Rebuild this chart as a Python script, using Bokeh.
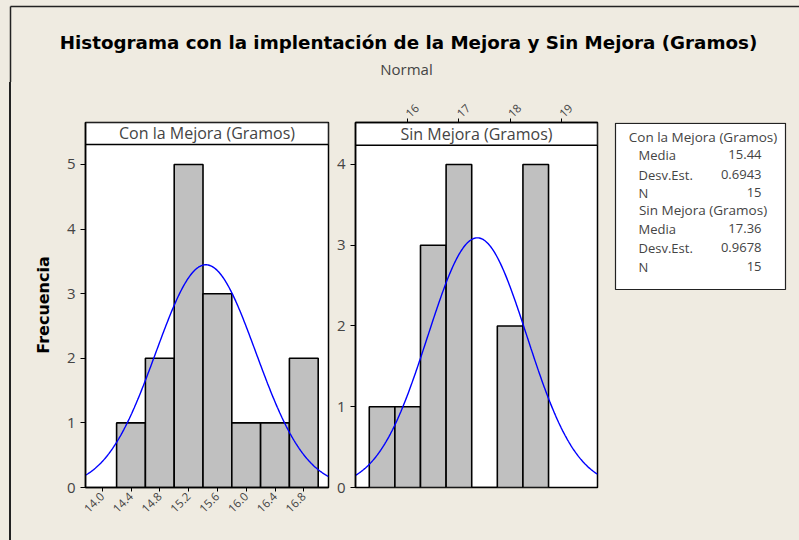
import math
import numpy as np
from bokeh.plotting import figure
from bokeh.layouts import column, row
from bokeh.models import Range1d, FixedTicker, NumeralTickFormatter, Spacer
from bokeh.core.properties import value
from bokeh.embed import file_html
from bokeh.resources import INLINE

# ---------------- data ----------------
title_text = "Histograma con la implentación de la Mejora y Sin Mejora (Gramos)"
subtitle_text = "Normal"
y_label = "Frecuencia"

con_name = "Con la Mejora (Gramos)"
con_bin_centers = [14.4, 14.8, 15.2, 15.6, 16.0, 16.4, 16.8]
con_counts = [1, 2, 5, 3, 1, 1, 2]
con_bin_width = 0.4
con_mean = 15.44
con_std = 0.6943
con_n = 15
con_x_ticks = [14.0, 14.4, 14.8, 15.2, 15.6, 16.0, 16.4, 16.8]
con_y_ticks = [0, 1, 2, 3, 4, 5]
con_x_range = (13.768, 17.143)

sin_name = "Sin Mejora (Gramos)"
sin_bin_centers = [15.5, 16.0, 16.5, 17.0, 17.5, 18.0, 18.5]
sin_counts = [1, 1, 3, 4, 0, 2, 4]
sin_bin_width = 0.5
sin_mean = 17.36
sin_std = 0.9678
sin_n = 15
sin_x_ticks = [16, 17, 18, 19]
sin_y_ticks = [0, 1, 2, 3, 4]
sin_x_range = (14.981, 19.706)

stat_labels = ["Media", "Desv.Est.", "N"]
con_stat_values = ["15.44", "0.6943", "15"]
sin_stat_values = ["17.36", "0.9678", "15"]

# ---------------- style ----------------
BG = "#EFEBE1"
FONT = "Open Sans"
BOLD_FONT = "DejaVu Sans"
TXT = "#444444"
ROW_H = 458
MB_TOP = 40
MB_BOTTOM = 53


def normal_curve(xr, mean, std, n, bw):
    xs = np.linspace(xr[0], xr[1], 300)
    ys = n * bw * np.exp(-0.5 * ((xs - mean) / std) ** 2) / (std * math.sqrt(2 * math.pi))
    return xs, ys


def panel(name, centers, counts, bw, mean, std, n, xr, y_top, header_bottom,
          xticks, yticks, x_loc, width, mb_left, mb_right, fmt, ylabel=None):
    p = figure(width=width, height=ROW_H, x_range=Range1d(*xr), y_range=Range1d(0, y_top),
               output_backend="svg", toolbar_location=None, x_axis_location=x_loc,
               min_border_left=mb_left, min_border_right=mb_right,
               min_border_top=MB_TOP, min_border_bottom=MB_BOTTOM,
               background_fill_color="white", border_fill_color=BG,
               outline_line_color="black", outline_line_width=1.5)
    p.grid.visible = False
    for ax in p.axis:
        ax.axis_line_color = "black"
        ax.axis_line_width = 1.5
        ax.major_tick_in = 0
        ax.major_tick_out = 5
        ax.major_tick_line_color = "black"
        ax.minor_tick_line_color = None
        ax.major_label_text_font = FONT
        ax.major_label_text_color = TXT
    p.xaxis.ticker = FixedTicker(ticks=xticks)
    p.xaxis.formatter = NumeralTickFormatter(format=fmt)
    p.xaxis.major_label_orientation = math.pi / 4
    p.xaxis.major_label_text_font_size = "11.5px"
    p.xaxis.major_label_standoff = 3
    p.xaxis.major_tick_out = 4
    p.yaxis.ticker = FixedTicker(ticks=yticks)
    p.yaxis.major_label_text_font_size = "15px"
    p.yaxis.major_label_standoff = 5
    if ylabel:
        p.yaxis.axis_label = ylabel
        p.yaxis.axis_label_text_font = BOLD_FONT
        p.yaxis.axis_label_text_font_style = "bold"
        p.yaxis.axis_label_text_font_size = "16px"
        p.yaxis.axis_label_text_color = "black"
        p.yaxis.axis_label_standoff = 11

    lefts = [c - bw / 2 for c in centers]
    rights = [c + bw / 2 for c in centers]
    p.quad(left=lefts, right=rights, bottom=0, top=counts,
           fill_color="#C0C0C0", line_color="black", line_width=1.6)
    xs, ys = normal_curve(xr, mean, std, n, bw)
    p.line(xs, ys, line_color="#0000FF", line_width=1.4)

    # header strip
    p.quad(left=[xr[0]], right=[xr[1]], bottom=[header_bottom], top=[y_top],
           fill_color="white", line_color="black", line_width=1.5)
    p.text(x=[(xr[0] + xr[1]) / 2], y=[(header_bottom + y_top) / 2], text=[name],
           text_align="center", text_baseline="middle", text_font=value(FONT),
           text_font_size="16px", text_color=TXT)
    return p


def canvas(width, height, mb_top=0, mb_bottom=0):
    fh = height - mb_top - mb_bottom
    p = figure(width=width, height=height, x_range=Range1d(0, width), y_range=Range1d(fh, 0),
               output_backend="svg", toolbar_location=None,
               x_axis_location=None, y_axis_location=None,
               min_border_left=0, min_border_right=0,
               min_border_top=mb_top, min_border_bottom=mb_bottom,
               background_fill_color=BG, border_fill_color=BG,
               outline_line_color=None)
    p.grid.visible = False
    return p


# title area
title_fig = canvas(799, 82)
title_fig.segment(x0=[10, 10], y0=[6, 6], x1=[799, 10], y1=[6, 82],
                  line_color="#222222", line_width=1.5)
title_fig.text(x=[408], y=[42], text=[title_text], text_align="center", text_baseline="middle",
               text_font=value(BOLD_FONT), text_font_style="bold", text_font_size="18.3px",
               text_color="black")
title_fig.text(x=[406], y=[68], text=[subtitle_text], text_align="center", text_baseline="middle",
               text_font=value(FONT), text_font_size="15px", text_color=TXT)

# outer frame line on the left
gap = Spacer(width=9, height=ROW_H, styles={"background-color": BG})
edge = Spacer(width=2, height=ROW_H, styles={"background-color": "#222222"})

left = panel(con_name, con_bin_centers, con_counts, con_bin_width, con_mean, con_std, con_n,
             con_x_range, 5.650, 5.310, con_x_ticks, con_y_ticks, "below",
             322, 74, 5, "0.0", ylabel=y_label)
right = panel(sin_name, sin_bin_centers, sin_counts, sin_bin_width, sin_mean, sin_std, sin_n,
              sin_x_range, 4.520, 4.239, sin_x_ticks, sin_y_ticks, "above",
              272, 21, 8, "0")

# statistics box (coordinates measured from the top of the panel frames)
leg = canvas(194, ROW_H, MB_TOP, MB_BOTTOM)
leg.quad(left=[10], right=[180], top=[0.8], bottom=[167], fill_color="white",
         line_color="#222222", line_width=1.2)
blocks = [(con_name, 14, [32, 52, 70], con_stat_values),
          (sin_name, 87, [106, 125, 144], sin_stat_values)]
for name, hy, ys, vals in blocks:
    leg.text(x=[97.5], y=[hy], text=[name], text_align="center", text_baseline="middle",
             text_font=value(FONT), text_font_size="13.5px", text_color=TXT)
    leg.text(x=[33] * 3, y=ys, text=stat_labels, text_align="left", text_baseline="middle",
             text_font=value(FONT), text_font_size="13px", text_color=TXT)
    leg.text(x=[156] * 3, y=ys, text=vals, text_align="right", text_baseline="middle",
             text_font=value(FONT), text_font_size="13px", text_color=TXT)

p = column(title_fig, row(gap, edge, left, right, leg, spacing=0, styles={"background-color": BG}),
           spacing=0, styles={"background-color": BG})

open("out.html", "w").write(file_html(p, INLINE))
